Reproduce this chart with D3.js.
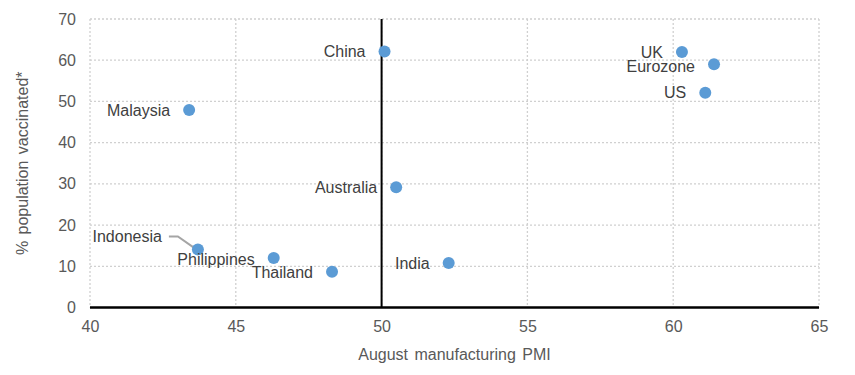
<!DOCTYPE html>
<html><head><meta charset="utf-8">
<script src="https://cdn.jsdelivr.net/npm/d3@7"></script>
<style>body{margin:0;background:#fff;} text{font-family:"Liberation Sans",Arial,sans-serif;}</style>
</head><body><svg id="c" width="855" height="375"></svg>
<script>
const countries = ["China","UK","Eurozone","US","Malaysia","Australia","Indonesia","Philippines","Thailand","India"];
const pmi =        [50.1, 60.3, 61.4, 61.1, 43.4, 50.5, 43.7, 46.3, 48.3, 52.3];
const vaccinated = [62.1, 62.0, 59.0, 52.1, 47.9, 29.2, 14.1, 12.0, 8.7, 10.8];
const xTicks = [40,45,50,55,60,65];
const yTicks = [0,10,20,30,40,50,60,70];
const xTitle = "August manufacturing PMI";
const yTitle = "% population vaccinated*";
// label offsets (dx, dy) in pixels relative to point; Indonesia uses a leader line
const labelDy = {Eurozone:2, Philippines:1, Thailand:1};

const svg = d3.select("#c");
const L=90, R=819, T=19, B=307.5;
const x = d3.scaleLinear().domain([40,65]).range([L,R]);
const y = d3.scaleLinear().domain([0,70]).range([B,T]);

// grid
const grid = svg.append("g").attr("stroke","#d0d0d0").attr("stroke-width",1.3).attr("stroke-dasharray","2,2");
xTicks.forEach(t=>grid.append("line").attr("x1",x(t)).attr("x2",x(t)).attr("y1",T).attr("y2",B));
yTicks.filter(t=>t>0).forEach(t=>grid.append("line").attr("x1",L).attr("x2",R).attr("y1",y(t)).attr("y2",y(t)));

// axes with d3 (no domain/ticks lines, labels only)
const xAxis = svg.append("g").attr("transform",`translate(0,${B})`)
  .call(d3.axisBottom(x).tickValues(xTicks).tickSize(0).tickPadding(13));
xAxis.select(".domain").remove();
xAxis.selectAll("text").attr("font-size",16).attr("fill","#595959").attr("font-family","Liberation Sans, Arial, sans-serif");
const yAxis = svg.append("g").attr("transform",`translate(${L},0)`)
  .call(d3.axisLeft(y).tickValues(yTicks).tickSize(0).tickPadding(14));
yAxis.select(".domain").remove();
yAxis.selectAll("text").attr("font-size",16).attr("fill","#595959").attr("font-family","Liberation Sans, Arial, sans-serif");

// zero axis and 50 line
svg.append("line").attr("x1",L).attr("x2",R).attr("y1",y(0)).attr("y2",y(0)).attr("stroke","#000").attr("stroke-width",2.5);
svg.append("line").attr("x1",x(50)).attr("x2",x(50)).attr("y1",T).attr("y2",y(0)).attr("stroke","#000").attr("stroke-width",2);

// titles
svg.append("text").attr("x",(L+R)/2).attr("y",360).attr("text-anchor","middle").attr("font-size",16).attr("fill","#595959").attr("word-spacing","2px").text(xTitle);
svg.append("text").attr("transform",`translate(28,${(T+B)/2}) rotate(-90)`).attr("text-anchor","middle").attr("font-size",16).attr("fill","#595959").attr("word-spacing","2px").text(yTitle);

const data = countries.map((c,i)=>({c, x:pmi[i], y:vaccinated[i]}));

// Indonesia leader line
const ind = data.find(d=>d.c==="Indonesia");
svg.append("path")
  .attr("d",`M${x(ind.x)-29},${y(ind.y)-13} L${x(ind.x)-20},${y(ind.y)-13} L${x(ind.x)-3},${y(ind.y)-1}`)
  .attr("fill","none").attr("stroke","#a5a5a5").attr("stroke-width",2);

// points
svg.append("g").selectAll("circle").data(data).join("circle")
  .attr("cx",d=>x(d.x)).attr("cy",d=>y(d.y)).attr("r",6).attr("fill","#5b9bd5");

// labels
svg.append("g").selectAll("text").data(data).join("text")
  .attr("x",d=>d.c==="Indonesia"? x(d.x)-36 : x(d.x)-19)
  .attr("y",d=>d.c==="Indonesia"? y(d.y)-13 : y(d.y)+(labelDy[d.c]||0))
  .attr("dy","0.35em").attr("text-anchor","end").attr("font-size",16).attr("fill","#404040")
  .text(d=>d.c);
</script></body></html>
